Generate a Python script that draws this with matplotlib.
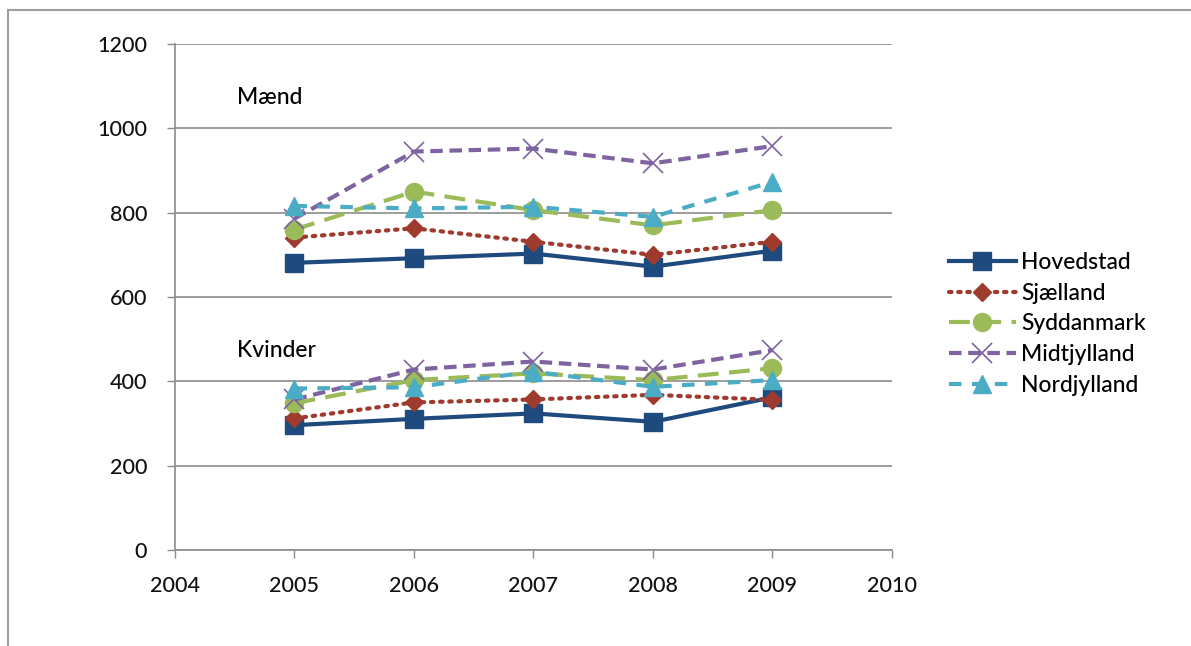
import matplotlib
matplotlib.use("Agg")
import matplotlib.pyplot as plt
from matplotlib.lines import Line2D

plt.rcParams['font.family'] = ['Lato', 'DejaVu Sans']
plt.rcParams['font.weight'] = 'medium'

years = [2005, 2006, 2007, 2008, 2009]
regions = ["Hovedstad", "Sjælland", "Syddanmark", "Midtjylland", "Nordjylland"]

# Men
men_hovedstad = [681, 692, 703, 672, 710]
men_sjaelland = [741, 763, 731, 700, 731]
men_syddanmark = [760, 850, 806, 770, 806]
men_midtjylland = [786, 945, 952, 917, 958]
men_nordjylland = [816, 810, 814, 790, 873]

# Women
women_hovedstad = [296, 311, 324, 304, 362]
women_sjaelland = [312, 350, 357, 368, 356]
women_syddanmark = [348, 403, 419, 403, 431]
women_midtjylland = [357, 428, 447, 428, 474]
women_nordjylland = [383, 386, 423, 387, 403]

men = [men_hovedstad, men_sjaelland, men_syddanmark, men_midtjylland, men_nordjylland]
women = [women_hovedstad, women_sjaelland, women_syddanmark, women_midtjylland, women_nordjylland]

xticks = [2004, 2005, 2006, 2007, 2008, 2009, 2010]
yticks = [0, 200, 400, 600, 800, 1000, 1200]

styles = [
    dict(color="#1F4A7D", marker="s", ms=13, ls="-", lw=3),
    dict(color="#9E3A2E", marker="D", ms=9, ls=(0, (0.6, 1.6)), lw=3, dash_capstyle="round"),
    dict(color="#9BBB59", marker="o", ms=13, ls=(0, (5, 2.5)), lw=3),
    dict(color="#7F63A1", marker="x", ms=14, ls=(0, (3, 1.6)), lw=3, mew=1.2),
    dict(color="#4BACC6", marker="^", ms=13, ls=(0, (3, 2.5)), lw=3),
]

fig = plt.figure(figsize=(11.91, 6.46), dpi=100)
ax = fig.add_axes([175 / 1191, 1 - 550 / 646, (892 - 175) / 1191, (550 - 44) / 646])

for vals_m, vals_w, st in zip(men, women, styles):
    for vals in (vals_m, vals_w):
        kw = dict(st)
        if kw["marker"] != "x":
            kw["mec"] = kw["color"]
        ax.plot(years, vals, **kw, clip_on=False)

ax.set_xlim(2004, 2010)
ax.set_ylim(0, 1200)
ax.set_xticks(xticks)
ax.set_yticks(yticks)
ax.set_xticklabels([str(t) for t in xticks], fontsize=15.5)
ax.set_yticklabels([str(t) for t in yticks], fontsize=15.5)
ax.yaxis.grid(True, color="#8C8C8C", lw=1.2)
ax.set_axisbelow(True)
for s in ("top", "right"):
    ax.spines[s].set_visible(False)
for s in ("left", "bottom"):
    ax.spines[s].set_color("#8C8C8C")
    ax.spines[s].set_linewidth(1.2)
ax.tick_params(axis="both", direction="out", length=6, width=1, color="#8C8C8C",
               labelcolor="#111111")
ax.tick_params(axis="x", pad=13)
ax.tick_params(axis="y", pad=14)

ax.text(2004.52, 1072, "Mænd", fontsize=16.5, va="center", ha="left")
ax.text(2004.52, 474, "Kvinder", fontsize=16.5, va="center", ha="left")

handles = []
for name, st in zip(regions, styles):
    kw = dict(st)
    if kw["marker"] != "x":
        kw["mec"] = kw["color"]
    handles.append(Line2D([], [], **kw, label=name))
fig.legend(handles=handles, loc="upper left", bbox_to_anchor=(940 / 1191, 1 - 243 / 646),
           frameon=False, fontsize=16.5, handlelength=2.9, handletextpad=0.25,
           labelspacing=0.42, borderaxespad=0)

# outer frame
fig.add_artist(Line2D([8 / 1191, 1], [1 - 10 / 646, 1 - 10 / 646], color="#A0A0A0", lw=1.5,
                      transform=fig.transFigure))
fig.add_artist(Line2D([8 / 1191, 8 / 1191], [0, 1 - 10 / 646], color="#A0A0A0", lw=1.5,
                      transform=fig.transFigure))

fig.savefig("out.png", dpi=100)
